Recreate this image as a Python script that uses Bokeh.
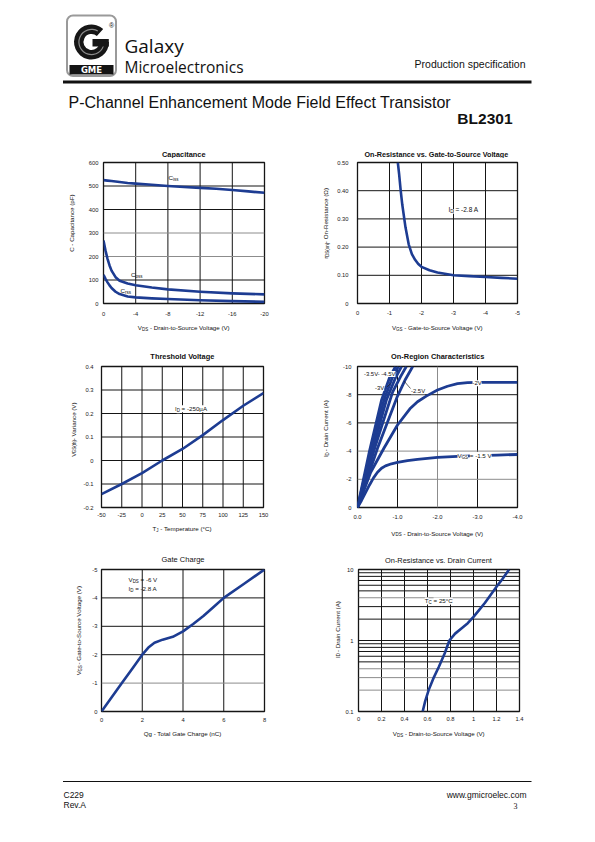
import math
from bokeh.plotting import figure
from bokeh.models import Range1d, FixedTicker, PrintfTickFormatter, Label, Span
from bokeh.layouts import column, row
from bokeh.embed import file_html
from bokeh.resources import INLINE

# ------------------------------------------------------------------ data
# Capacitance
cap_vds = [0, -0.5, -1, -1.5, -2, -3, -4, -6, -8, -10, -12, -14, -16, -18, -20]
cap_ciss = [525, 523, 521, 519, 517, 513, 510, 505, 500, 496, 492, 488, 483, 477, 471]
cap_vds2 = [0, -0.25, -0.5, -0.75, -1, -1.5, -2, -3, -4, -6, -8, -12, -16, -20]
cap_coss = [268, 225, 190, 162, 140, 112, 97, 85, 78, 68, 60, 50, 43, 39]
cap_crss = [122, 105, 90, 77, 66, 50, 40, 30, 26, 22, 19, 14, 10, 7]
cap_xticks = [0, -4, -8, -12, -16, -20]
cap_xlabels = ["0", "-4", "-8", "-12", "-16", "-20"]
cap_yticks = [0, 100, 200, 300, 400, 500, 600]
cap_ylabels = ["0", "100", "200", "300", "400", "500", "600"]

# On-resistance vs gate-to-source voltage
ron_vgs = [-1.26, -1.3, -1.35, -1.4, -1.5, -1.6, -1.7, -1.8, -1.9, -2.0, -2.25, -2.5, -3.0, -3.5, -4.0, -4.5, -5.0]
ron_r = [0.50, 0.46, 0.40, 0.35, 0.27, 0.21, 0.175, 0.155, 0.14, 0.13, 0.118, 0.11, 0.10, 0.097, 0.094, 0.091, 0.088]
ron_xticks = [0, -1, -2, -3, -4, -5]
ron_xlabels = ["0", "-1", "-2", "-3", "-4", "-5"]
ron_yticks = [0, 0.1, 0.2, 0.3, 0.4, 0.5]
ron_ylabels = ["0", "0.10", "0.20", "0.30", "0.40", "0.50"]

# Threshold voltage
th_tj = [-50, -25, 0, 25, 50, 75, 100, 125, 150]
th_v = [-0.143, -0.10, -0.054, 0.0, 0.049, 0.108, 0.172, 0.233, 0.287]
th_xticks = [-50, -25, 0, 25, 50, 75, 100, 125, 150]
th_xlabels = ["-50", "-25", "0", "25", "50", "75", "100", "125", "150"]
th_yticks = [-0.2, -0.1, 0, 0.1, 0.2, 0.3, 0.4]
th_ylabels = ["-0.2", "-0.1", "0", "0.1", "0.2", "0.3", "0.4"]

# On-region characteristics
or_x_15 = [0, -0.1, -0.2, -0.3, -0.4, -0.5, -0.6, -0.7, -0.85, -1.0, -1.25, -1.5, -2.0, -2.5, -3.0, -3.5, -4.0]
or_y_15 = [0, -0.5, -1.05, -1.6, -2.1, -2.5, -2.78, -2.95, -3.1, -3.2, -3.33, -3.42, -3.55, -3.62, -3.68, -3.72, -3.76]
or_x_20 = [0, -0.33, -0.66, -1.0, -1.31, -1.5, -1.72, -2.0, -2.25, -2.5, -2.75, -3.0, -3.5, -4.0]
or_y_20 = [0, -2.5, -4.2, -5.85, -7.0, -7.5, -7.9, -8.33, -8.6, -8.78, -8.85, -8.87, -8.88, -8.88]
or_x_25 = [0, -0.5, -1.0, -1.2, -1.38]
or_y_25 = [0, -4.2, -7.9, -9.1, -10.0]
or_x_30 = [0, -0.45, -0.88, -1.08, -1.22]
or_y_30 = [0, -4.4, -8.2, -9.3, -10.0]
or_x_35 = [0, -0.37, -0.72, -0.95, -1.1]
or_y_35 = [0, -4.0, -7.6, -9.2, -10.0]
or_x_40 = [0, -0.33, -0.66, -0.87, -1.02]
or_y_40 = [0, -4.0, -7.6, -9.2, -10.0]
or_x_45 = [0, -0.3, -0.6, -0.8, -0.95]
or_y_45 = [0, -4.0, -7.6, -9.2, -10.0]
or_xticks = [0, -1, -2, -3, -4]
or_xlabels = ["0.0", "-1.0", "-2.0", "-3.0", "-4.0"]
or_yticks = [0, -2, -4, -6, -8, -10]
or_ylabels = ["0", "-2", "-4", "-6", "-8", "-10"]

# Gate charge
gc_qg = [0, 0.5, 1, 1.5, 2, 2.3, 2.6, 3.0, 3.5, 4.0, 4.5, 5.0, 5.5, 6, 7, 8]
gc_vgs = [0, -0.5, -1.0, -1.5, -2.0, -2.25, -2.42, -2.53, -2.63, -2.82, -3.08, -3.36, -3.68, -4.0, -4.5, -5.0]
gc_xticks = [0, 2, 4, 6, 8]
gc_xlabels = ["0", "2", "4", "6", "8"]
gc_yticks = [0, -1, -2, -3, -4, -5]
gc_ylabels = ["0", "-1", "-2", "-3", "-4", "-5"]

# Drain current vs drain-to-source voltage (log)
dc_vds = [0.558, 0.58, 0.61, 0.65, 0.7, 0.75, 0.79, 0.84, 0.9, 0.95, 1.0, 1.05, 1.1, 1.15, 1.2, 1.25, 1.31]
dc_id = [0.1, 0.14, 0.2, 0.29, 0.43, 0.66, 1.0, 1.25, 1.5, 1.75, 2.15, 2.7, 3.4, 4.4, 5.7, 7.3, 10]
dc_xticks = [0, 0.2, 0.4, 0.6, 0.8, 1.0, 1.2, 1.4]
dc_xlabels = ["0", "0.2", "0.4", "0.6", "0.8", "1", "1.2", "1.4"]
dc_yticks = [0.1, 1, 10]
dc_ylabels = ["0.1", "1", "10"]
dc_yminor = [0.2, 0.3, 0.4, 0.5, 0.6, 0.7, 0.8, 0.9, 2, 3, 4, 5, 6, 7, 8, 9]

# ------------------------------------------------------------------ style helpers
FONT = "Liberation Sans"
BLUE = "#1d3c92"
DARK = "#151515"
GRAY = "#8c8c8c"

AW = {' ': 278, '!': 278, '(': 333, ')': 333, '-': 333, '.': 278, ',': 278, ':': 278,
      '=': 584, '°': 400, 'µ': 577, 'Ω': 768, '®': 737, '/': 278}
for _c in "0123456789":
    AW[_c] = 556
AW.update(dict(A=667, B=667, C=722, D=722, E=667, F=611, G=778, H=722, I=278, J=500, K=667,
               L=556, M=833, N=722, O=778, P=667, Q=778, R=722, S=667, T=611, U=722, V=667,
               W=944, X=667, Y=667, Z=611))
AW.update(dict(a=556, b=556, c=500, d=556, e=556, f=278, g=556, h=556, i=222, j=222, k=500,
               l=222, m=833, n=556, o=556, p=556, q=556, r=333, s=500, t=278, u=556, v=500,
               w=722, x=500, y=500, z=500))


def tw(s, size, bold=False):
    w = sum(AW.get(ch, 556) for ch in s) / 1000.0 * size
    return w * 1.07 if bold else w


class Conv:
    """page pixel -> data coordinate of a chart"""
    def __init__(self, frame, xr, yr, logy=False):
        self.L, self.T, self.R, self.B = frame
        self.xr, self.yr, self.logy = xr, yr, logy

    def x(self, px):
        x0, x1 = self.xr
        return x0 + (px - self.L) / (self.R - self.L) * (x1 - x0)

    def y(self, py):
        f = (self.B - py) / (self.B - self.T)
        y0, y1 = self.yr
        if self.logy:
            return 10 ** (math.log10(y0) + f * (math.log10(y1) - math.log10(y0)))
        return y0 + f * (y1 - y0)


class Ident:
    def x(self, px):
        return px

    def y(self, py):
        return py


IDENT = Ident()


def rich(p, cv, segs, px, py, size, anchor="center", vertical=False, bg=None,
         bold=False, color="#111111", font=FONT):
    sub = 0.72
    items = []
    for t, s in segs:
        fs = size * sub if s else size
        lead = len(t) - len(t.lstrip(" "))
        items.append((t.strip(" "), s, fs, tw(" " * lead, fs, bold), tw(t, fs, bold)))
    total = sum(it[4] for it in items)
    off = {"center": total / 2, "left": 0, "right": total}[anchor]
    pos = -off
    for text, s, fs, lw, full in items:
        d = 0.3 * size if s else 0
        start = pos + lw
        if vertical:
            X, Y = px + d, py - start
        else:
            X, Y = px + start, py + d
        lab = Label(x=cv.x(X), y=cv.y(Y), text=text, text_font=font,
                    text_font_size=f"{fs:.2f}px", text_align="left",
                    text_baseline="middle", text_color=color,
                    angle=math.pi / 2 if vertical else 0)
        if bold:
            lab.text_font_style = "bold"
        if bg:
            lab.background_fill_color = bg
        p.add_layout(lab)
        pos += full


def canvas(x0, y0, w, h):
    p = figure(width=w, height=h, x_range=Range1d(x0, x0 + w),
               y_range=Range1d(y0 + h, y0), output_backend="svg",
               toolbar_location=None, title=None, x_axis_location=None, y_axis_location=None,
               min_border_left=0, min_border_right=0, min_border_top=0, min_border_bottom=0)
    p.outline_line_color = None
    p.xgrid.visible = False
    p.ygrid.visible = False
    p.background_fill_color = "white"
    p.border_fill_color = "white"
    return p


def txt(p, x, y, text, size, font=FONT, align="left", baseline="alphabetic",
        color="#111111", style="normal"):
    p.add_layout(Label(x=x, y=y, text=text, text_font=font, text_font_size=f"{size}px",
                       text_align=align, text_baseline=baseline, text_color=color,
                       text_font_style=style))


def build_chart(spec):
    ox, oy, W, H = spec["box"]
    L, T, R, B = spec["frame"]
    kw = dict(width=W, height=H, x_range=Range1d(*spec["xr"]), y_range=Range1d(*spec["yr"]),
              output_backend="svg", toolbar_location=None, title=None,
              min_border_left=L - ox, min_border_right=ox + W - R,
              min_border_top=T - oy, min_border_bottom=oy + H - B)
    if spec.get("logy"):
        kw["y_axis_type"] = "log"
    p = figure(**kw)
    p.background_fill_color = "white"
    p.border_fill_color = "white"
    p.outline_line_color = DARK
    p.outline_line_width = 1.3
    p.outline_line_alpha = 1.0
    p.xgrid.visible = False
    p.ygrid.visible = False
    p.xaxis.ticker = FixedTicker(ticks=spec["xticks"])
    p.yaxis.ticker = FixedTicker(ticks=spec["yticks"])
    p.xaxis.formatter = PrintfTickFormatter(format=spec["xfmt"])
    p.yaxis.formatter = PrintfTickFormatter(format=spec["yfmt"])
    p.xaxis.major_label_overrides = dict(zip(spec["xticks"], spec["xlabels"]))
    p.yaxis.major_label_overrides = dict(zip(spec["yticks"], spec["ylabels"]))
    for ax in (p.xaxis[0], p.yaxis[0]):
        ax.axis_line_color = None
        ax.major_tick_line_color = None
        ax.minor_tick_line_color = None
        ax.major_tick_out = 0
        ax.major_tick_in = 0
        ax.minor_tick_out = 0
        ax.minor_tick_in = 0
        ax.major_label_text_font = FONT
        ax.major_label_text_font_size = "5.8px"
        ax.major_label_text_color = "#1a1a1a"
    p.xaxis.major_label_standoff = spec["xso"]
    p.yaxis.major_label_standoff = spec["yso"]

    for t in spec["xgrid"]:
        col = GRAY if t in spec.get("xgray", []) else DARK
        p.add_layout(Span(location=t, dimension="height", line_color=col,
                          line_width=1.0, level="underlay"))
    for t in spec["ygrid"]:
        col = GRAY if t in spec.get("ygray", []) else DARK
        p.add_layout(Span(location=t, dimension="width", line_color=col,
                          line_width=1.0, level="underlay"))

    for xs, ys in spec["curves"]:
        p.line(xs, ys, line_color=BLUE, line_width=spec.get("lw", 2.6), line_join="round")

    cv = Conv(spec["frame"], spec["xr"], spec["yr"], spec.get("logy", False))
    for segs, px, py, size, anchor, bg in spec.get("notes", []):
        rich(p, cv, segs, px, py, size, anchor=anchor, bg=bg)
    for (x0, y0), (x1, y1) in spec.get("leaders", []):
        p.line([cv.x(x0), cv.x(x1)], [cv.y(y0), cv.y(y1)], line_color="#222222", line_width=0.7)
    return p


VDS = [("V", 0), ("DS", 1), (" - Drain-to-Source Voltage (V)", 0)]
VGS = [("V", 0), ("GS", 1), (" - Gate-to-Source Voltage (V)", 0)]
IDL = [("I", 0), ("D", 1), (" - Drain Current (A)", 0)]

# page layout: header | row1 | strip1 | row2 | strip2 | row3 | footer
header = canvas(0, 0, 595, 158)
strip1 = canvas(0, 321, 595, 41)
strip2 = canvas(0, 523, 595, 42)
footer = canvas(0, 727, 595, 115)
yl = [canvas(0, 158, 80, 163), canvas(297, 158, 35, 163),
      canvas(0, 362, 80, 161), canvas(297, 362, 35, 161),
      canvas(0, 565, 84, 162), canvas(297, 565, 45, 162)]
title_canvas = [header, header, strip1, strip1, strip2, strip2]
xlabel_canvas = [strip1, strip1, strip2, strip2, footer, footer]

specs = [
    dict(box=(80, 158, 217, 163), frame=(103, 162, 264, 303), xr=(0, -20), yr=(0, 600),
         xticks=cap_xticks, xlabels=cap_xlabels, yticks=cap_yticks, ylabels=cap_ylabels,
         xfmt="%d", yfmt="%d", xso=8, yso=5,
         xgrid=cap_xticks[1:-1], ygrid=cap_yticks[1:-1], ygray=[200, 300],
         curves=[(cap_vds, cap_ciss), (cap_vds2, cap_coss), (cap_vds2, cap_crss)],
         title="Capacitance", title_pos=(183.5, 154, 7.4, True),
         xlabel=VDS, xlabel_pos=(183.5, 327),
         ylabel=[("C - Capacitance (pF)", 0)], ylabel_pos=(71, 232.5),
         notes=[([("C", 0), ("iss", 1)], 168, 177, 6.2, "left", None),
                ([("C", 0), ("oss", 1)], 130.5, 274, 6.2, "left", None),
                ([("C", 0), ("rss", 1)], 120, 290, 6.2, "left", None)]),
    dict(box=(332, 158, 263, 163), frame=(357, 162, 517, 303), xr=(0, -5), yr=(0, 0.5),
         xticks=ron_xticks, xlabels=ron_xlabels, yticks=ron_yticks, ylabels=ron_ylabels,
         xfmt="%d", yfmt="%.2f", xso=7, yso=9,
         xgrid=ron_xticks[1:-1], ygrid=ron_yticks[1:-1],
         curves=[(ron_vgs, ron_r)],
         title="On-Resistance vs. Gate-to-Source Voltage", title_pos=(437, 154, 7.2, True),
         xlabel=VGS, xlabel_pos=(437, 327),
         ylabel=[("r", 0), ("DS(on)", 1), (" - On-Resistance (Ω)", 0)], ylabel_pos=(325, 232.5),
         notes=[([("I", 0), ("D", 1), (" = -2.8 A", 0)], 448, 209, 6.5, "left", "white")]),
    dict(box=(80, 362, 217, 161), frame=(101, 366, 263, 507), xr=(-50, 150), yr=(-0.2, 0.4),
         xticks=th_xticks, xlabels=th_xlabels, yticks=th_yticks, ylabels=th_ylabels,
         xfmt="%d", yfmt="%.1f", xso=5, yso=8,
         xgrid=th_xticks[1:-1], ygrid=th_yticks[1:-1],
         curves=[(th_tj, th_v)],
         title="Threshold Voltage", title_pos=(182, 356, 7.4, True),
         xlabel=[("T", 0), ("J", 1), (" - Temperature (°C)", 0)], xlabel_pos=(182, 528),
         ylabel=[("V", 0), ("GS(th)", 1), (" - Variance (V)", 0)], ylabel_pos=(72.5, 436.5),
         notes=[([("I", 0), ("D", 1), (" = -250µA", 0)], 190.5, 408.3, 6.2, "center", "white")]),
    dict(box=(332, 362, 263, 161), frame=(357, 366, 517, 507), xr=(0, -4), yr=(0, -10),
         xticks=or_xticks, xlabels=or_xlabels, yticks=or_yticks, ylabels=or_ylabels,
         xfmt="%.1f", yfmt="%d", xso=7, yso=6, lw=2.8,
         xgrid=or_xticks[1:-1], ygrid=or_yticks[1:-1], xgray=[-2], ygray=[-2, -4],
         curves=[(or_x_15, or_y_15), (or_x_20, or_y_20), (or_x_25, or_y_25),
                 (or_x_30, or_y_30), (or_x_35, or_y_35), (or_x_40, or_y_40),
                 (or_x_45, or_y_45)],
         title="On-Region Characteristics", title_pos=(437, 356, 7.4, True),
         xlabel=VDS, xlabel_pos=(437, 532.5),
         ylabel=IDL, ylabel_pos=(325, 436.5),
         notes=[([("-3.5V- -4.5V", 0)], 363.5, 373.5, 5.9, "left", "white"),
                ([("-3V", 0)], 374.5, 387.3, 5.9, "left", "white"),
                ([("-2.5V", 0)], 410.5, 390.7, 5.9, "left", "white"),
                ([("-2V", 0)], 472, 382.7, 5.9, "left", "white"),
                ([("V", 0), ("GS", 1), (" = -1.5 V", 0)], 457, 455, 6.2, "left", "white")],
         leaders=[((403.5, 380.5), (410, 388)), ((386.5, 386.5), (390, 383))]),
    dict(box=(84, 565, 213, 162), frame=(101, 569, 264, 711), xr=(0, 8), yr=(0, -5),
         xticks=gc_xticks, xlabels=gc_xlabels, yticks=gc_yticks, ylabels=gc_ylabels,
         xfmt="%d", yfmt="%d", xso=6, yso=4,
         xgrid=gc_xticks[1:-1], ygrid=gc_yticks[1:-1], ygray=[-1],
         curves=[(gc_qg, gc_vgs)],
         title="Gate Charge", title_pos=(182.5, 559, 7.5, False),
         xlabel=[("Qg - Total Gate Charge (nC)", 0)], xlabel_pos=(182.5, 732.5),
         ylabel=VGS, ylabel_pos=(78, 640),
         notes=[([("V", 0), ("DS", 1), (" = -6 V", 0)], 128, 579, 6.2, "left", None),
                ([("I", 0), ("D", 1), (" = -2.8 A", 0)], 128, 588, 6.2, "left", None)]),
    dict(box=(342, 565, 253, 162), frame=(358, 569, 519, 712), xr=(0, 1.4), yr=(0.1, 10),
         logy=True,
         xticks=dc_xticks, xlabels=dc_xlabels, yticks=dc_yticks, ylabels=dc_ylabels,
         xfmt="%.1f", yfmt="%g", xso=5, yso=5,
         xgrid=dc_xticks[1:-1], ygrid=[1] + dc_yminor, ygray=[0.2, 0.3, 0.4, 4],
         curves=[(dc_vds, dc_id)],
         title="On-Resistance vs. Drain Current", title_pos=(438, 560, 7.4, False),
         xlabel=VDS, xlabel_pos=(438.5, 733),
         ylabel=IDL, ylabel_pos=(336.5, 637),
         notes=[([("T", 0), ("C", 1), (" = 25°C", 0)], 438.3, 600.7, 6.2, "center", "white")]),
]

charts = []
for i, s in enumerate(specs):
    charts.append(build_chart(s))
    tx, ty, tsize, tbold = s["title_pos"]
    rich(title_canvas[i], IDENT, [(s["title"], 0)], tx, ty, tsize, bold=tbold)
    lx, ly = s["xlabel_pos"]
    rich(xlabel_canvas[i], IDENT, s["xlabel"], lx, ly, 6.2)
    yx, yy = s["ylabel_pos"]
    rich(yl[i], IDENT, s["ylabel"], yx, yy, 6.2, vertical=True)

# ------------------------------------------------------------------ header / footer
# logo box
header.quad(left=[66.5], right=[115.5], top=[15], bottom=[75.5], fill_color="white",
            line_color="#9a9a9a", line_width=2, border_radius=6)
# stylised "G" ring with a bar
header.annular_wedge(x=[91], y=[41.5], inner_radius=8.0, outer_radius=17.5,
                     start_angle=math.radians(48), end_angle=math.radians(360),
                     direction="anticlock", fill_color="#161616", line_color=None)
header.annular_wedge(x=[91], y=[41.5], inner_radius=12.0, outer_radius=13.2,
                     start_angle=math.radians(60), end_angle=math.radians(352),
                     direction="anticlock", fill_color="#8a8a8a", line_color=None)
header.quad(left=[92], right=[108.3], top=[38.5], bottom=[46], fill_color="#161616",
            line_color=None)
header.quad(left=[69], right=[113], top=[64.5], bottom=[74], fill_color="#141414", line_color=None)
txt(header, 91, 69.5, "GME", 8.5, font="DejaVu Sans", align="center", baseline="middle",
    color="white", style="bold")
txt(header, 111, 24.5, "®", 7, align="center", baseline="middle")
txt(header, 124, 45.5, "Galaxy", 19, font="Open Sans")
txt(header, 124, 66, "Microelectronics", 15.5, font="Open Sans")
txt(header, 525, 63.5, "Production specification", 10.5, align="right")
header.line([62.5, 531], [81.5, 81.5], line_color="#111111", line_width=3)
txt(header, 68, 101.7, "P-Channel Enhancement Mode Field Effect Transistor", 16)
txt(header, 512, 118.3, "BL2301", 15.5, align="right", style="bold")

footer.line([62.5, 531], [781, 781], line_color="#111111", line_width=1.2)
txt(footer, 63, 794, "C229", 8.5)
txt(footer, 63, 804, "Rev.A", 8.5)
txt(footer, 526, 794, "www.gmicroelec.com", 8.5, align="right")
txt(footer, 515, 805, "3", 8, font="Liberation Serif", align="center")

layout = column(header,
                row(yl[0], charts[0], yl[1], charts[1], spacing=0),
                strip1,
                row(yl[2], charts[2], yl[3], charts[3], spacing=0),
                strip2,
                row(yl[4], charts[4], yl[5], charts[5], spacing=0),
                footer, spacing=0)

open("out.html", "w").write(file_html(layout, INLINE))
